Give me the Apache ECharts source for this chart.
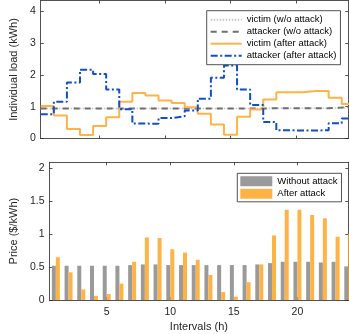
<!DOCTYPE html>
<html>
<head>
<meta charset="utf-8">
<script src="https://cdn.jsdelivr.net/npm/echarts@6/dist/echarts.min.js"></script>
<style>
    html, body { margin: 0; padding: 0; background: #fff; }
    #chart { width: 349px; height: 334px; }
</style>
</head>
<body>
<div id="chart"></div>
<script>
// hourly intervals and tick labels
var intervals = [1, 2, 3, 4, 5, 6, 7, 8, 9, 10, 11, 12, 13, 14, 15, 16, 17, 18, 19, 20, 21, 22, 23, 24];
var xTicks = [5, 10, 15, 20];
var loadTicks = [0, 1, 2, 3, 4];
var priceTicks = [0, 0.5, 1, 1.5, 2];

// individual load (kWh)
var victimBase = [0.94, 0.94, 0.94, 0.94, 0.94, 0.94, 0.94, 0.94, 0.94, 0.94, 0.94, 0.94,
    0.94, 0.94, 0.94, 0.94, 0.94, 0.95, 0.95, 0.95, 0.95, 0.95, 0.96, 0.97];
var attackerBase = [0.94, 0.94, 0.94, 0.94, 0.94, 0.94, 0.94, 0.94, 0.94, 0.94, 0.94, 0.94,
    0.94, 0.94, 0.94, 0.94, 0.94, 0.95, 0.95, 0.95, 0.95, 0.95, 0.97, 1.01];
var victimAfter = [1.02, 0.72, 0.30, 0.11, 0.39, 0.67, 1.15, 1.43, 1.35, 1.19, 1.11, 0.98,
    0.78, 0.44, 0.12, 0.68, 0.91, 1.22, 1.45, 1.45, 1.49, 1.49, 1.28, 1.08];
var attackerAfter = [0.76, 1.15, 1.76, 2.16, 2.02, 1.54, 0.92, 0.47, 0.46, 0.64, 0.70, 0.88,
    1.25, 1.91, 2.29, 1.54, 1.05, 0.52, 0.26, 0.25, 0.25, 0.26, 0.48, 0.63];

// price ($/kWh)
var priceBase = [0.52, 0.52, 0.52, 0.52, 0.52, 0.52, 0.53, 0.54, 0.54, 0.53, 0.53, 0.53,
    0.53, 0.53, 0.53, 0.53, 0.54, 0.56, 0.58, 0.58, 0.58, 0.57, 0.58, 0.51];
var priceAfter = [0.65, 0.42, 0.16, 0.06, 0.09, 0.25, 0.58, 0.95, 0.94, 0.77, 0.72, 0.61,
    0.38, 0.12, 0.05, 0.27, 0.54, 0.98, 1.37, 1.37, 1.29, 1.24, 0.96, 1.00];

var font = 'Liberation Sans, Arial, Helvetica, sans-serif';
var axisColor = '#262626';

//阶梯线: 每个区间 [k-0.5, k+0.5] 保持同一个值
function stairs(values) {
    var pts = intervals.map(function (k, i) {
        return [k - 0.5, values[i]];
    });
    pts.push([intervals[intervals.length - 1] + 0.5, values[values.length - 1]]);
    return pts;
}

function pairs(values) {
    return intervals.map(function (k, i) {
        return [k, values[i]];
    });
}

function xAxisOf(grid, pos, showLabel, name) {
    return {
        type: 'value', gridIndex: grid, position: pos, min: 0.5, max: 24,
        name: name || '', nameLocation: 'middle', nameGap: 21,
        nameTextStyle: {fontFamily: font, fontSize: 11, color: axisColor},
        axisLine: {show: true, onZero: false, lineStyle: {color: axisColor, width: 0.8}},
        axisTick: {show: true, inside: true, length: 3, customValues: xTicks,
            lineStyle: {color: axisColor, width: 0.8}},
        axisLabel: {show: showLabel, customValues: xTicks, margin: 7,
            fontFamily: font, fontSize: 10.5, color: axisColor},
        splitLine: {show: false}
    };
}

function yAxisOf(grid, pos, max, ticks, showLabel, name) {
    return {
        type: 'value', gridIndex: grid, position: pos, min: 0, max: max,
        name: name || '', nameLocation: 'middle', nameGap: 16,
        nameTextStyle: {fontFamily: font, fontSize: 11, color: axisColor},
        axisLine: {show: true, onZero: false, lineStyle: {color: axisColor, width: 0.8}},
        axisTick: {show: true, inside: true, length: 3, customValues: ticks,
            lineStyle: {color: axisColor, width: 0.8}},
        axisLabel: {show: showLabel, customValues: ticks, margin: 5,
            fontFamily: font, fontSize: 10.5, color: axisColor},
        splitLine: {show: false}
    };
}

function lineSeries(name, values, color, width, type) {
    return {
        name: name, type: 'line', xAxisIndex: 0, yAxisIndex: 0,
        data: stairs(values), step: 'end', symbol: 'none', clip: true,
        lineStyle: {color: color, width: width, type: type},
        itemStyle: {color: color}
    };
}

var option = {
    animation: false,
    backgroundColor: '#fff',
    grid: [
        {left: 34.3, top: 0.5, width: 314, height: 138},
        {left: 34.3, top: 162.3, width: 314, height: 137.7}
    ],
    xAxis: [
        xAxisOf(0, 'bottom', false),
        xAxisOf(0, 'top', false),
        xAxisOf(1, 'bottom', true, 'Intervals (h)'),
        xAxisOf(1, 'top', false)
    ],
    yAxis: [
        yAxisOf(0, 'left', 4.33, loadTicks, true, 'Individual load (kWh)'),
        yAxisOf(0, 'right', 4.33, loadTicks, false),
        yAxisOf(1, 'left', 2.09, priceTicks, true, 'Price ($/kWh)'),
        yAxisOf(1, 'right', 2.09, priceTicks, false)
    ],
    legend: [{
        data: ['victim (w/o attack)', 'attacker (w/o attack)', 'victim (after attack)', 'attacker (after attack)'],
        orient: 'vertical', left: 206.7, top: 10.7, selectedMode: false,
        itemStyle: {opacity: 0},
        backgroundColor: '#fff', borderColor: axisColor, borderWidth: 0.8,
        padding: [3, 4, 3, 3], itemWidth: 31, itemHeight: 10, itemGap: 0,
        textStyle: {fontFamily: font, fontSize: 9.5, lineHeight: 12, color: '#000'}
    }, {
        data: ['Without attack', 'After attack'],
        orient: 'vertical', left: 237.3, top: 173.3, selectedMode: false, icon: 'rect',
        backgroundColor: '#fff', borderColor: axisColor, borderWidth: 0.8,
        padding: [2.5, 4, 2.5, 3], itemWidth: 32, itemHeight: 10, itemGap: 1.5,
        textStyle: {fontFamily: font, fontSize: 9.5, lineHeight: 11, color: '#000'}
    }],
    series: [
        lineSeries('victim (w/o attack)', victimBase, '#c4c4c4', 1.5, [1.5, 1.5]),
        lineSeries('attacker (w/o attack)', attackerBase, '#6f6f6f', 2, [6, 5]),
        lineSeries('victim (after attack)', victimAfter, '#ffb347', 2, 'solid'),
        lineSeries('attacker (after attack)', attackerAfter, '#0f4fc8', 2, [7, 2.5, 2, 2.5]),
        {
            name: 'Without attack', type: 'bar', xAxisIndex: 2, yAxisIndex: 2,
            data: pairs(priceBase), barWidth: 4, barGap: '0%',
            itemStyle: {color: '#9a9a9a'}
        },
        {
            name: 'After attack', type: 'bar', xAxisIndex: 2, yAxisIndex: 2,
            data: pairs(priceAfter), barWidth: 4, barGap: '0%',
            itemStyle: {color: '#ffb347'}
        }
    ]
};

var myChart = echarts.init(document.getElementById('chart'), null, {renderer: 'canvas'});
myChart.setOption(option);
</script>
</body>
</html>
